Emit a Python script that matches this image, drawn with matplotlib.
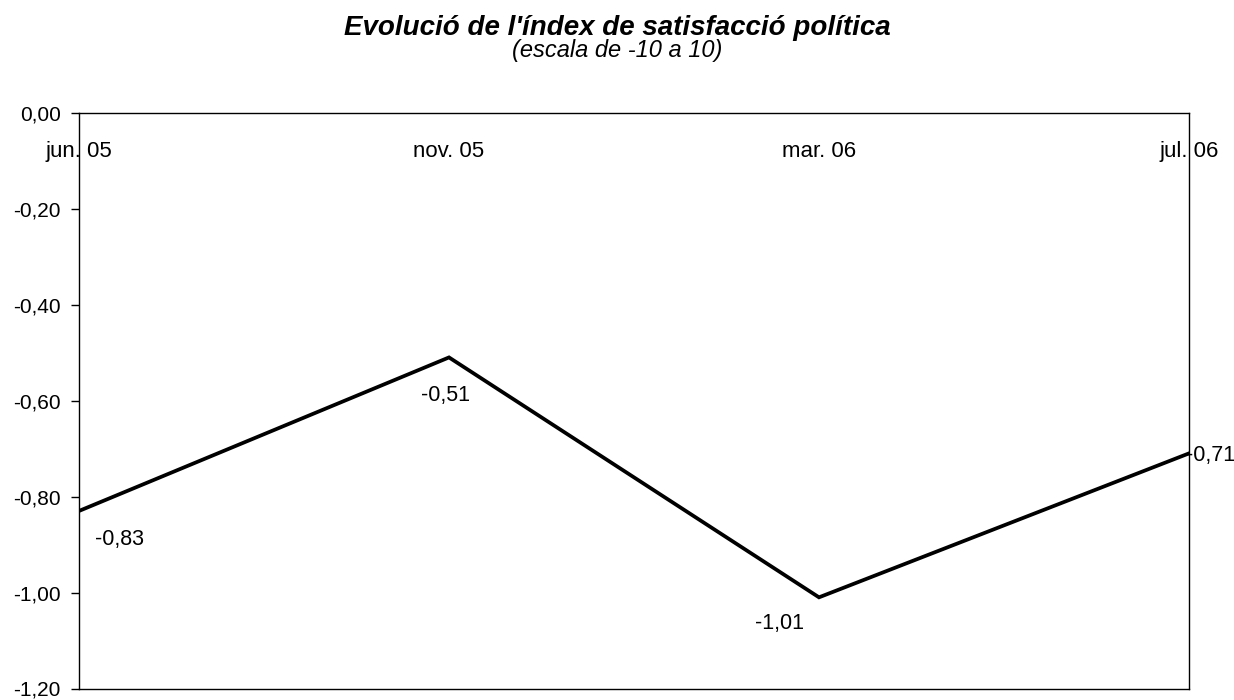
import matplotlib
matplotlib.use("Agg")
import matplotlib.pyplot as plt

plt.rcParams['font.family'] = ['Liberation Sans', 'DejaVu Sans']

# data
periods = ['jun. 05', 'nov. 05', 'mar. 06', 'jul. 06']
index_values = [-0.83, -0.51, -1.01, -0.71]
value_labels = ['-0,83', '-0,51', '-1,01', '-0,71']
ytick_values = [0.0, -0.2, -0.4, -0.6, -0.8, -1.0, -1.2]
ytick_labels = ['0,00', '-0,20', '-0,40', '-0,60', '-0,80', '-1,00', '-1,20']

W, H = 1234, 700
top_px, bottom_px = 112.7, 688.5
fig = plt.figure(figsize=(W / 100, H / 100), dpi=100)
ax = fig.add_axes([79 / W, (H - bottom_px) / H, (1189 - 79) / W, (bottom_px - top_px) / H])

x = list(range(len(periods)))
ax.plot(x, index_values, color='black', lw=2.7, solid_joinstyle='miter', zorder=3)

ax.set_xlim(0, len(periods) - 1)
ax.set_ylim(-1.2, 0.0)
ax.set_yticks(ytick_values, ytick_labels, fontsize=15)
ax.tick_params(axis='y', direction='out', length=6, width=1, pad=7)
ax.tick_params(axis='x', bottom=False, top=False, labelbottom=False)

for sp in ax.spines.values():
    sp.set_linewidth(1.0)
    sp.set_zorder(4)

# category labels just below the axis line at the top
for xi, name in zip(x, periods):
    ax.text(xi, -0.092, name, ha='center', va='baseline', fontsize=16, zorder=5)

# data labels (offsets in pixels)
offsets = [(40, -34), (-4, -44), (-40, -32), (-3, -8)]
aligns = ['center', 'center', 'center', 'left']
for xi, v, lab, off, ha in zip(x, index_values, value_labels, offsets, aligns):
    ax.annotate(lab, (xi, v), xytext=off, textcoords='offset pixels',
                ha=ha, va='baseline', fontsize=15.5, zorder=1, annotation_clip=False)

fig.text(0.5, 1 - 35 / H, "Evolució de l'índex de satisfacció política",
         ha='center', va='baseline', fontsize=20, fontweight='bold', style='italic')
fig.text(0.5, 1 - 57 / H, "(escala de -10 a 10)",
         ha='center', va='baseline', fontsize=17, style='italic')

fig.savefig('out.png', dpi=100)
